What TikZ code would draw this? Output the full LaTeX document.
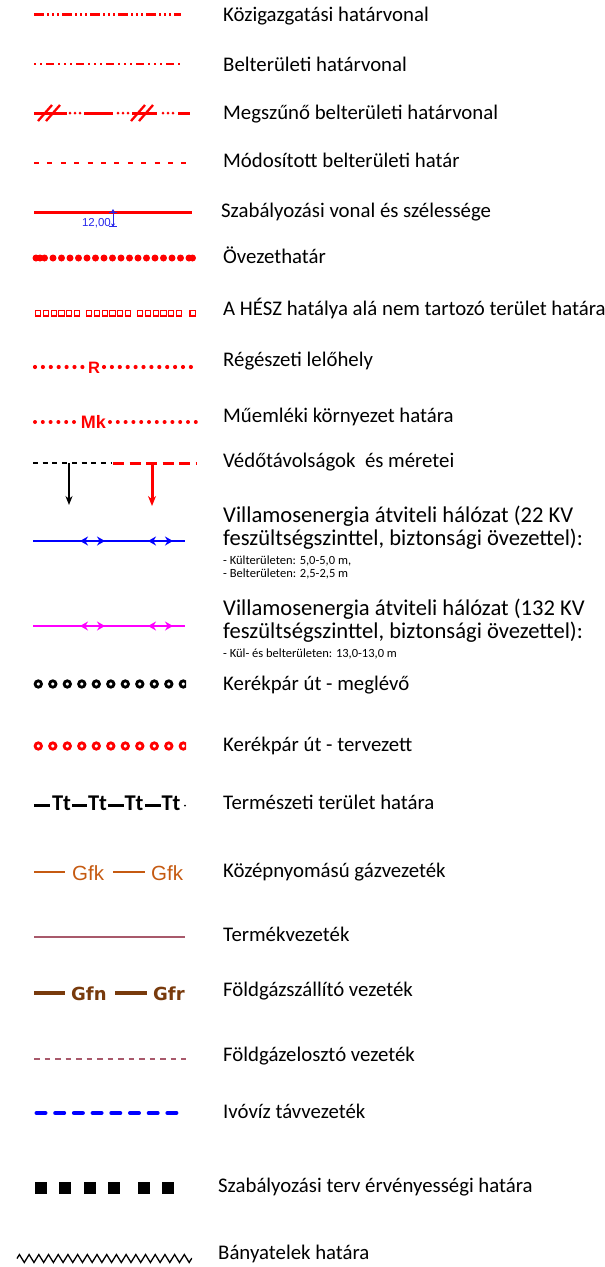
\documentclass[tikz,border=0pt]{standalone}
\usepackage{fontspec}
\setmainfont{Carlito}
\newfontfamily\arialf{Liberation Sans}
\newfontfamily\dejaf{DejaVu Sans}
\usetikzlibrary{arrows.meta,decorations.pathmorphing}
\definecolor{gfk}{RGB}{197,90,17}
\definecolor{gfn}{RGB}{120,58,12}
\definecolor{termek}{RGB}{168,89,107}
\definecolor{dimblue}{RGB}{40,40,235}
\definecolor{magentaL}{RGB}{255,0,255}
\begin{document}
\begin{tikzpicture}[x=1pt,y=-1pt,
  lbl/.style={anchor=base west, inner sep=0pt, font=\fontsize{20.8}{23}\selectfont},
  lblbig/.style={anchor=base west, inner sep=0pt, font=\fontsize{22.6}{23}\selectfont},
  lblsmall/.style={anchor=base west, inner sep=0pt, font=\fontsize{12.5}{13}\selectfont},
  dotline/.style={line cap=round, dash pattern=on 0pt off #1},
  dblarrow/.style={line width=2.4pt, {Stealth[length=8pt,width=9pt]}-{Stealth[length=8pt,width=9pt]}},
]
\useasboundingbox (0,0) rectangle (605,1267);

% ---------- labels ----------
\node[lbl] (l1) at (223,21) {Közigazgatási határvonal};
\node[lbl] (l2) at (223,71) {Belterületi határvonal};
\node[lbl] (l3) at (223,119) {Megszűnő belterületi határvonal};
\node[lbl] (l4) at (223,167) {Módosított belterületi határ};
\node[lbl] (l5) at (221,217) {Szabályozási vonal és szélessége};
\node[lbl] (l6) at (223,263) {Övezethatár};
\node[lbl] (l7) at (223,315) {A HÉSZ hatálya alá nem tartozó terület határa};
\node[lbl] (l8) at (223,366) {Régészeti lelőhely};
\node[lbl] (l9) at (223,422) {Műemléki környezet határa};
\node[lbl] (l10) at (223,467) {Védőtávolságok\ \ és méretei};
\node[lblbig] (l11a) at (223,522) {Villamosenergia átviteli hálózat (22 KV};
\node[lblbig] (l11b) at (223,545) {feszültségszinttel, biztonsági övezettel):};
\node[lblsmall] (l11c) at (223,564) {- Külterületen: 5,0-5,0 m,};
\node[lblsmall] (l11d) at (223,577) {- Belterületen: 2,5-2,5 m};
\node[lblbig] (l12a) at (223,615) {Villamosenergia átviteli hálózat (132 KV};
\node[lblbig] (l12b) at (223,638) {feszültségszinttel, biztonsági övezettel):};
\node[lblsmall] (l12c) at (223,657) {- Kül- és belterületen: 13,0-13,0 m};
\node[lbl] (l13) at (223,690) {Kerékpár út - meglévő};
\node[lbl] (l14) at (223,751) {Kerékpár út - tervezett};
\node[lbl] (l15) at (223,809) {Természeti terület határa};
\node[lbl] (l16) at (223,877) {Középnyomású gázvezeték};
\node[lbl] (l17) at (223,941) {Termékvezeték};
\node[lbl] (l18) at (223,996) {Földgázszállító vezeték};
\node[lbl] (l19) at (223,1061) {Földgázelosztó vezeték};
\node[lbl] (l20) at (223,1118) {Ivóvíz távvezeték};
\node[lbl] (l21) at (218,1192) {Szabályozási terv érvényességi határa};
\node[lbl] (l22) at (218,1259) {Bányatelek határa};

% ---------- 1 Közigazgatási ----------
\draw[red, line width=3pt, dash pattern=on 10pt off 3pt on 2pt off 3pt on 2pt off 3pt on 2pt off 3pt] (34,14) -- (181,14);

% ---------- 2 Belterületi ----------
\draw[red, line width=2.5pt, dash pattern=on 2pt off 4pt on 2pt off 4pt on 8pt off 4pt on 2pt off 4pt] (34,64) -- (181,64);

% ---------- 3 Megszűnő ----------
\begin{scope}[red, line width=3pt]
  \draw (34,113) -- (67,113);
  \draw[dotline=5pt] (70,113) -- (80,113);
  \draw (84,113) -- (113,113);
  \draw[dotline=5pt] (118,113) -- (128,113);
  \draw (132,113) -- (157,113);
  \draw[dotline=5pt] (163,113) -- (173,113);
  \draw (178,113) -- (190,113);
  \draw[line width=2.3pt] (38,121) -- (52,105) (46,121) -- (60,105);
  \draw[line width=2.3pt] (131,121) -- (145,105) (139,121) -- (153,105);
\end{scope}

% ---------- 4 Módosított ----------
\draw[red, line width=2.5pt, dash pattern=on 5pt off 8.4pt] (34,163) -- (192,163);

% ---------- 5 Szabályozási vonal ----------
\draw[red, line width=3pt] (34,212) -- (192,212);
\draw[dimblue, line width=1pt, {Stealth[length=3.5pt,width=4pt]}-{Stealth[length=3.5pt,width=4pt]}] (113,209) -- (113,227);
\draw[dimblue, line width=0.8pt] (109,212) -- (117,212) (109,226) -- (117,226);
\node[anchor=base east, inner sep=0pt, text=dimblue, font=\arialf\fontsize{11.5}{12}\selectfont] (dim) at (111,226) {12,00};

% ---------- 6 Övezethatár ----------
\draw[red, line width=7pt, dotline=8.5pt] (36,258) -- (197,258);
\fill[red] (40,258) circle (3.5pt) (192.5,258) circle (3.5pt);

% ---------- 7 HÉSZ ----------
\begin{scope}[red, line width=1.1pt]
  \foreach \g in {0,1,2} {
    \foreach \i in {0,...,5} {
      \draw ({35.5+\g*51+\i*7.8},310.5) rectangle ++(5.2,5.5);
    }
  }
  \draw (190,310.5) rectangle ++(5.2,5.5);
\end{scope}

% ---------- 8 Régészeti ----------
\draw[red, line width=4.2pt, dotline=7.9pt] (35,367) -- (84,367);
\node[inner sep=0pt, text=red, font=\arialf\bfseries\fontsize{16.5}{16}\selectfont] (R) at (94,367.5) {R};
\draw[red, line width=4.2pt, dotline=7.9pt] (104,367) -- (195,367);

% ---------- 9 Műemléki ----------
\draw[red, line width=4pt, dotline=7.8pt] (35,422) -- (78,422);
\node[inner sep=0pt, text=red, font=\arialf\bfseries\fontsize{18}{18}\selectfont] (Mk) at (93.5,422) {Mk};
\draw[red, line width=4pt, dotline=7.8pt] (110,422) -- (196,422);

% ---------- 10 Védőtávolságok ----------
\coordinate (va) at (69,463);
\coordinate (vb) at (69,505);
\coordinate (vc) at (152,463);
\coordinate (vd) at (152,506);
\draw[black, line width=1.4pt, dash pattern=on 5pt off 4.7pt] (33,463) -- (112,463);
\draw[red, line width=3pt, dash pattern=on 11pt off 5.5pt] (113,463) -- (197,463);
\draw[black, line width=1.4pt, -{Stealth[length=9pt,width=7pt]}] (va) -- (vb);
\draw[red, line width=3pt, -{Stealth[length=10pt,width=8pt]}] (vc) -- (vd);

% ---------- 11 22 KV ----------
\draw[blue, line width=1.4pt] (33,541) -- (185,541);
\draw[blue, dblarrow] (80,541) -- (105,541);
\draw[blue, dblarrow] (148,541) -- (173,541);

% ---------- 12 132 KV ----------
\draw[magentaL, line width=1.4pt] (33,626) -- (185,626);
\draw[magentaL, dblarrow] (80,626) -- (105,626);
\draw[magentaL, dblarrow] (148,626) -- (173,626);

% ---------- 13/14 Kerékpár ----------
\begin{scope}
  \clip (28,670) rectangle (186,760);
  \foreach \k in {0,...,10} {
    \draw[black, line width=2.8pt] ({38.3+\k*14.5},684) circle (3.2pt);
    \draw[red, line width=2.8pt] ({38.3+\k*14.5},746) circle (3.2pt);
  }
\end{scope}

% ---------- 15 Természeti ----------
\begin{scope}[line width=2.4pt]
  \draw (34,805.5) -- (50,805.5);
  \draw (72,805.5) -- (87,805.5);
  \draw (108,805.5) -- (124,805.5);
  \draw (145,805.5) -- (161,805.5);
  \fill (185,805.5) circle (1pt);
\end{scope}
\foreach \x/\n in {61.5/t1, 97.5/t2, 134/t3, 171/t4} {
  \node[anchor=base, inner sep=0pt, font=\bfseries\fontsize{22.5}{23}\selectfont] (\n) at (\x,810) {Tt};
}

% ---------- 16 Gfk ----------
\draw[gfk, line width=1.3pt] (34,872) -- (65,872);
\node[anchor=base west, inner sep=0pt, text=gfk, font=\arialf\fontsize{20.5}{21}\selectfont] (gfk1) at (72,880) {Gfk};
\draw[gfk, line width=1.3pt] (113,872) -- (145,872);
\node[anchor=base west, inner sep=0pt, text=gfk, font=\arialf\fontsize{20.5}{21}\selectfont] (gfk2) at (151,880) {Gfk};

% ---------- 17 Termék ----------
\draw[termek, line width=2pt] (34,937) -- (185,937);

% ---------- 18 Gfn ----------
\draw[gfn, line width=3.3pt] (34,993) -- (65,993);
\node[anchor=base west, inner sep=0pt, text=gfn, font=\dejaf\bfseries\fontsize{18}{18}\selectfont] (gfn1) at (71,1000.5) {Gfn};
\draw[gfn, line width=3.3pt] (115,993) -- (147,993);
\node[anchor=base west, inner sep=0pt, text=gfn, font=\dejaf\bfseries\fontsize{18}{18}\selectfont] (gfn2) at (153,1000.5) {Gfr};

% ---------- 19 Földgázelosztó ----------
\draw[termek, line width=1.3pt, dash pattern=on 5.5pt off 5pt] (34,1059) -- (186,1059);

% ---------- 20 Ivóvíz ----------
\draw[blue, line width=4pt, line cap=round, dash pattern=on 9pt off 9.7pt] (36.5,1113) -- (177,1113);

% ---------- 21 Szabályozási terv ----------
\foreach \x in {35,59,84,108,138,162} {
  \fill[black] (\x,1182) rectangle ++(12,12);
}

% ---------- 22 Bányatelek ----------
\draw[black, line width=1.3pt, decorate, decoration={zigzag, segment length=9.7pt, amplitude=4pt}] (17,1258.5) -- (192,1258.5);

\end{tikzpicture}
\end{document}
